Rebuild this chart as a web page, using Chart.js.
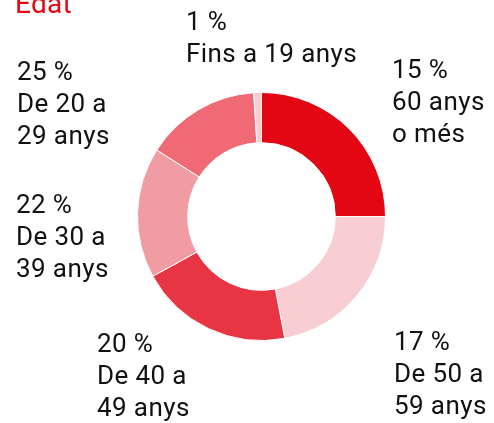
<!DOCTYPE html>
<html>
<head>
<meta charset="utf-8">
<script src="https://cdn.jsdelivr.net/npm/chart.js@4"></script>
<style>
  html, body { margin: 0; padding: 0; background: #fff; }
  #wrap { position: relative; width: 494px; height: 423px; overflow: hidden; font-family: Roboto, sans-serif; }
  #title { position: absolute; left: 15px; top: -14px; font-size: 28px; color: #e30613; line-height: 36px; letter-spacing: 0.3px; }
  .lbl { position: absolute; font-size: 26px; line-height: 32px; letter-spacing: 0.4px; color: #111; white-space: nowrap; }
  canvas { position: absolute; left: 0; top: 0; }
</style>
</head>
<body>
<div id="wrap">
  <canvas id="chartEdat" width="494" height="423"></canvas>
  <div id="title">Edat</div>
</div>
<script>
const categories = ['De 20 a 29 anys', 'De 30 a 39 anys', 'De 40 a 49 anys', 'De 50 a 59 anys', '60 anys o més', 'Fins a 19 anys'];
const values = [25, 22, 20, 17, 15, 1];
const colors = ['#e30613', '#f9ced2', '#e83543', '#f19ca3', '#ef6a75', '#f8cdd1'];
// label text lines (broken as in the original) and where they sit
const labelLines = [['De 20 a', '29 anys'], ['De 30 a', '39 anys'], ['De 40 a', '49 anys'], ['De 50 a', '59 anys'], ['60 anys', 'o més'], ['Fins a 19 anys']];
const labelPos = [[17, 55], [16, 188], [97, 327], [394, 325], [392, 53], [186, 5]];

const wrap = document.getElementById('wrap');
values.forEach((v, i) => {
  const d = document.createElement('div');
  d.className = 'lbl';
  d.style.left = labelPos[i][0] + 'px';
  d.style.top = labelPos[i][1] + 'px';
  d.innerHTML = [v + ' %'].concat(labelLines[i]).join('<br>');
  wrap.appendChild(d);
});

new Chart(document.getElementById('chartEdat'), {
  type: 'doughnut',
  data: {
    labels: categories,
    datasets: [{ data: values, backgroundColor: colors, borderColor: '#fff', borderWidth: 1 }]
  },
  options: {
    responsive: false, animation: false, cutout: '59.5%',
    layout: { padding: { left: 137, top: 92, right: 108, bottom: 82 } },
    plugins: { legend: { display: false }, tooltip: { enabled: false } }
  }
});
</script>
</body>
</html>
